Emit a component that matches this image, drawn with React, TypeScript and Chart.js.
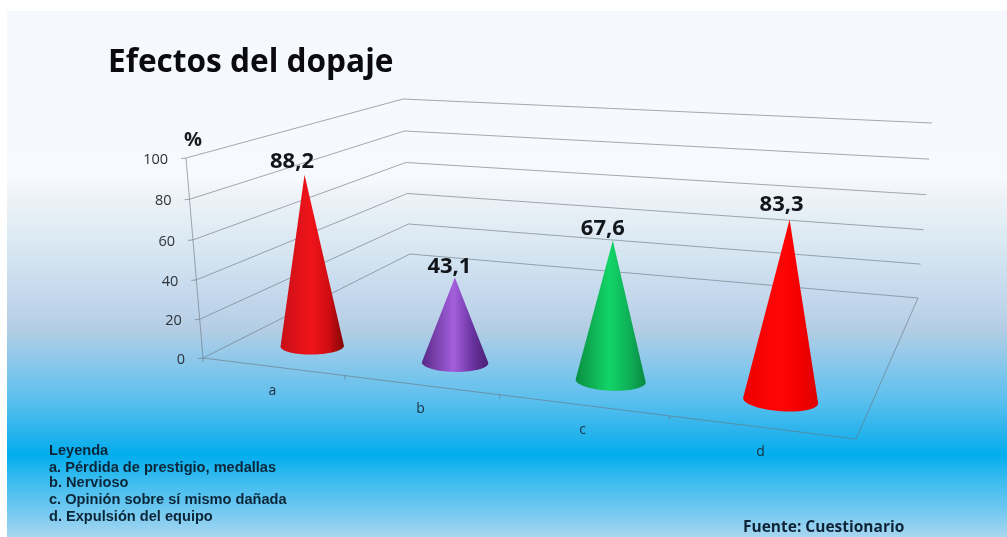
import React, { useEffect, useRef } from "react";
import { Chart, BarController, registerables } from "chart.js";

Chart.register(...registerables);

const categories = ["a", "b", "c", "d"];
const effectValues = [88.2, 43.1, 67.6, 83.3];
const valueLabels = ["88,2", "43,1", "67,6", "83,3"];
const yTicks = { min: 0, max: 100, stepSize: 20 };
const titleText = "Efectos del dopaje";
const unitText = "%";
const legendLines = [
  "Leyenda",
  "a. Pérdida de prestigio, medallas",
  "b. Nervioso",
  "c. Opinión sobre sí mismo dañada",
  "d. Expulsión del equipo",
];
const sourceText = "Fuente: Cuestionario";

// Horizontal shading across each cone
const coneShades = [
  ["#c80f18", "#f01419", "#d00d12", "#800505"],
  ["#582a88", "#a45fdc", "#6a34a0", "#4a2074"],
  ["#0a8f42", "#12d566", "#0eb058", "#0a8a40"],
  ["#ee0000", "#ff0606", "#f40000", "#dc0000"],
];
const labelNudgeX = [-12.5, -5.5, -10, -8];
const labelNudgeY = [-13, -10.5, -12, -15];

const W = 1007;
const H = 537;
type P = { x: number; y: number };
// Picture corners of the 3D box: front-left, front-right, back-right, back-left
const FLOOR: P[] = [{ x: 203, y: 358 }, { x: 856, y: 439 }, { x: 918, y: 298 }, { x: 410, y: 254 }];
const CEIL: P[] = [{ x: 186, y: 158 }, { x: 870, y: 204 }, { x: 932, y: 123 }, { x: 403, y: 99 }];
const CONE_SHIFT = 0.004;
const CONE_DEPTH = 0.155;
const CONE_RU = 0.052;
const CONE_RV = 0.06;

function homography(q: P[]) {
  const [p0, p1, p2, p3] = q;
  const dx1 = p1.x - p2.x, dx2 = p3.x - p2.x, sx = p0.x - p1.x + p2.x - p3.x;
  const dy1 = p1.y - p2.y, dy2 = p3.y - p2.y, sy = p0.y - p1.y + p2.y - p3.y;
  const det = dx1 * dy2 - dx2 * dy1;
  const g = (sx * dy2 - dx2 * sy) / det;
  const h = (dx1 * sy - sx * dy1) / det;
  const a = p1.x - p0.x + g * p1.x, b = p3.x - p0.x + h * p3.x, c = p0.x;
  const d = p1.y - p0.y + g * p1.y, e = p3.y - p0.y + h * p3.y, f = p0.y;
  return (u: number, v: number): P => {
    const k = g * u + h * v + 1;
    return { x: (a * u + b * v + c) / k, y: (d * u + e * v + f) / k };
  };
}
const floorAt = homography(FLOOR);
const ceilAt = homography(CEIL);
function project(u: number, v: number, w: number): P {
  const f = floorAt(u, v);
  const t = ceilAt(u, v);
  // Perspective foreshortening of the vertical axis
  const k = w - 0.04 * w * (1 - w);
  return { x: f.x + (t.x - f.x) * k, y: f.y + (t.y - f.y) * k };
}
function coneTip(u: number, w: number): P {
  const t = project(u, CONE_DEPTH, w);
  // The cones lean a little less than the box walls
  return { x: t.x + 3.5 - 2 * u, y: t.y };
}

class Cone3DController extends BarController {
  static id = "cone3d";
  static defaults = BarController.defaults;
  static overrides = BarController.overrides;
  draw() {
    const chart = this.chart;
    const ctx = chart.ctx;
    const area = chart.chartArea;
    const meta = this.getMeta();
    meta.data.forEach((el: any, i: number) => {
      const u = (el.x - area.left) / area.width + CONE_SHIFT;
      const w = (area.bottom - el.y) / area.height;
      const tip = coneTip(u, w);
      const n = 120;
      const rim: P[] = [];
      for (let k = 0; k < n; k++) {
        const a = (k / n) * Math.PI * 2;
        rim.push(project(u + CONE_RU * Math.cos(a), CONE_DEPTH + CONE_RV * Math.sin(a), 0));
      }
      let iMin = 0, iMax = 0, aMin = Infinity, aMax = -Infinity;
      rim.forEach((p, k) => {
        const ang = Math.atan2(p.x - tip.x, p.y - tip.y);
        if (ang < aMin) { aMin = ang; iMin = k; }
        if (ang > aMax) { aMax = ang; iMax = k; }
      });
      const walk = (from: number, to: number) => {
        const out: P[] = [];
        for (let k = from; ; k = (k + 1) % n) {
          out.push(rim[k]);
          if (k === to) break;
        }
        return out;
      };
      const arcA = walk(iMin, iMax);
      const arcB = walk(iMax, iMin);
      const avg = (a: P[]) => a.reduce((s, p) => s + p.y, 0) / a.length;
      const arc = avg(arcA) > avg(arcB) ? arcA : arcB;
      const xs = rim.map((p) => p.x);
      const left = Math.min(...xs), right = Math.max(...xs);
      const g = ctx.createLinearGradient(left, 0, right, 0);
      const shades = coneShades[i];
      g.addColorStop(0, shades[0]);
      g.addColorStop(0.48, shades[1]);
      g.addColorStop(0.76, shades[2]);
      g.addColorStop(1, shades[3]);
      ctx.save();
      ctx.beginPath();
      ctx.moveTo(tip.x, tip.y);
      arc.forEach((p) => ctx.lineTo(p.x, p.y));
      ctx.closePath();
      ctx.fillStyle = g;
      ctx.fill();
      ctx.restore();
    });
  }
}
Chart.register(Cone3DController);

function text(ctx: CanvasRenderingContext2D, s: string, x: number, y: number, font: string, color: string, align: CanvasTextAlign = "left") {
  ctx.font = font;
  ctx.fillStyle = color;
  ctx.textAlign = align;
  ctx.textBaseline = "middle";
  ctx.fillText(s, x, y);
}

const scenePlugin = {
  id: "scene",
  beforeDraw(chart: any) {
    const ctx: CanvasRenderingContext2D = chart.ctx;
    ctx.save();
    ctx.fillStyle = "#ffffff";
    ctx.fillRect(0, 0, W, H);
    const g = ctx.createLinearGradient(0, 11, 0, H);
    const stops: [number, string][] = [
      [11, "#f5f9fd"], [180, "#f6f9fd"], [195, "#eef3f8"], [240, "#dbe9f2"], [290, "#c6daee"],
      [330, "#b4cde4"], [350, "#9acae9"], [400, "#5bc0ee"], [430, "#2cb4ec"], [455, "#02aeee"],
      [480, "#3abbef"], [510, "#70c8f0"], [537, "#a8d6f0"],
    ];
    stops.forEach(([y, c]) => g.addColorStop((y - 11) / (H - 11), c));
    ctx.fillStyle = g;
    ctx.fillRect(7, 11, W - 7, H - 11);

    // Box walls and floor, with gridlines taken from the value scale
    const yScale = chart.scales.y;
    const xScale = chart.scales.x;
    const area = chart.chartArea;
    const line = (a: P, b: P) => {
      ctx.beginPath();
      ctx.moveTo(a.x, a.y);
      ctx.lineTo(b.x, b.y);
      ctx.stroke();
    };
    ctx.lineWidth = 1;
    ctx.strokeStyle = "rgba(105,115,125,0.6)";
    yScale.ticks.forEach((t: any) => {
      const w = (area.bottom - yScale.getPixelForValue(t.value)) / area.height;
      const a = project(0, 0, w), b = project(0, 1, w), c = project(1, 1, w);
      line(a, b);
      line(b, c);
      line({ x: a.x - 5, y: a.y + 0.5 }, a);
      text(ctx, String(t.value), a.x - 18, a.y + 2, "14.5px 'Open Sans'", "#2e3338", "right");
    });
    line(project(0, 0, 0), project(0, 0, 1));
    line(project(0, 0, 0), project(1, 0, 0));
    line(project(1, 0, 0), project(1, 1, 0));
    categories.forEach((c, i) => {
      const u = (xScale.getPixelForValue(i) - area.left) / area.width;
      const e = project(u, 0, 0);
      text(ctx, c, e.x, e.y + 24.5, "14px 'Open Sans'", "#1c3040", "center");
      const b = project(u - 0.125, 0, 0);
      line(b, { x: b.x, y: b.y + 4 });
    });

    text(ctx, titleText, 108, 62.5, "bold 31.6px 'Open Sans'", "#0a0a0f");
    text(ctx, unitText, 193, 140, "bold 20px 'Open Sans'", "#1a1d20", "center");
    ctx.restore();
  },
  afterDatasetsDraw(chart: any) {
    const ctx: CanvasRenderingContext2D = chart.ctx;
    const area = chart.chartArea;
    ctx.save();
    chart.getDatasetMeta(0).data.forEach((el: any, i: number) => {
      const u = (el.x - area.left) / area.width + CONE_SHIFT;
      const w = (area.bottom - el.y) / area.height;
      const tip = coneTip(u, w);
      text(ctx, valueLabels[i], tip.x + labelNudgeX[i], tip.y + labelNudgeY[i], "bold 22px 'Open Sans'", "#12151a", "center");
    });
    const legendY = [451, 468, 483, 500, 517];
    legendLines.forEach((s, i) => {
      text(ctx, s, 49, legendY[i], "bold 14.6px 'Liberation Sans'", "#0b2638");
    });
    text(ctx, sourceText, 743, 528, "bold 15.5px 'Open Sans'", "#0e2436");
    ctx.restore();
  },
};

export default function App() {
  const ref = useRef<HTMLCanvasElement>(null);
  useEffect(() => {
    const chart = new Chart(ref.current!, {
      type: "cone3d" as any,
      data: {
        labels: categories,
        datasets: [{ label: "Efectos del dopaje", data: effectValues }],
      },
      options: {
        responsive: false,
        animation: false,
        layout: { padding: 0 },
        plugins: { legend: { display: false }, tooltip: { enabled: false }, title: { display: false } },
        scales: {
          x: { type: "category", display: false, offset: true },
          y: { type: "linear", display: false, min: yTicks.min, max: yTicks.max, ticks: { stepSize: yTicks.stepSize } },
        },
      },
      plugins: [scenePlugin],
    });
    return () => chart.destroy();
  }, []);
  return (
    <div style={{ position: "fixed", left: 0, top: 0, width: W, height: H }}>
      <canvas ref={ref} width={W} height={H} style={{ display: "block", filter: "blur(0.5px)" }} />
    </div>
  );
}
